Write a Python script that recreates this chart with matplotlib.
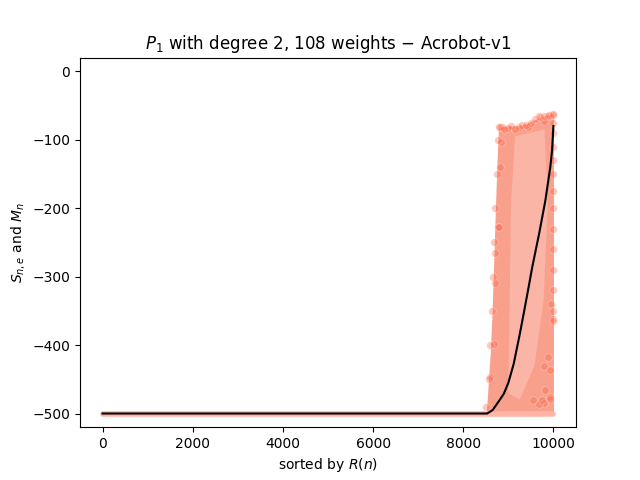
import matplotlib
matplotlib.use("Agg")
import matplotlib.pyplot as plt

# Mean curve M_n (sorted by R(n))
mean_x = [0, 8530, 8650, 8800, 8900, 9000, 9120, 9250, 9340, 9450, 9530, 9680, 9820, 9930, 9970, 9999]
mean_y = [-500, -500, -495, -481, -471, -455, -427, -385, -354, -315, -286, -238, -189, -140, -115, -80]

# Envelope of the dense cloud of episode scores S_{n,e}
cloud_x = [8510, 8540, 8600, 8640, 8680, 8710, 8750, 8780, 9000, 9300, 9600, 9800, 10000]
cloud_top = [-500, -470, -410, -350, -270, -205, -130, -82, -80, -79, -70, -65, -62]

# Lighter inner region of the cloud (polygon)
light_x = [9150, 9800, 9880, 9780, 9580, 9250, 9000, 9020, 9060]
light_y = [-95, -85, -189, -335, -430, -480, -470, -379, -189]

# Individual visible points of S_{n,e}
pts_x = [8822, 8985, 9230, 9438, 9674, 9785, 9882, 9999, 8844, 8807, 8771, 8859, 8785,
         8711, 8711, 8673, 8600, 9956, 9999, 9882, 9785, 9933, 9785, 9674, 9918, 9933,
         9822, 9748, 9555,
         8515, 8560, 8600, 8637, 8660, 8690, 8711, 8740, 8770,
         8800, 8900, 9050, 9150, 9300, 9400, 9500, 9600, 9700, 9800, 9900, 10000,
         9990, 9990, 9990, 9990, 9990, 9990, 9990, 9990, 9990, 9990, 9990, 9990, 9990]
pts_y = [-82, -83, -82, -82, -66, -72, -66, -64, -104, -140, -228, -82, -228,
         -266, -310, -398, -447, -340, -362, -418, -430, -476, -484, -486, -437, -479,
         -466, -480, -480,
         -490, -450, -400, -350, -300, -250, -200, -150, -100,
         -82, -85, -80, -84, -79, -78, -75, -70, -67, -66, -64, -62,
         -75, -90, -110, -130, -150, -175, -200, -230, -260, -290, -320, -350, -365]

# Band of scores at the -500 floor
floor_x = [0, 10000]
floor_y = [-500, -500]

fig, ax = plt.subplots(figsize=(6.4, 4.8), dpi=100)

ax.fill_between(cloud_x, cloud_top, -500, color="#f9a08c", lw=0, zorder=1)
ax.fill(light_x, light_y, color="#fbb5a6", lw=0, zorder=1.1)
ax.scatter(pts_x, pts_y, s=30, color="tomato", alpha=0.35, edgecolor="white",
           linewidth=0.5, zorder=2)
ax.plot(floor_x, floor_y, color="#ffb4a6", lw=4, solid_capstyle="round", zorder=2.5)
ax.plot(mean_x, mean_y, color="black", lw=1.5, zorder=3)

ax.set_xlim(-500, 10500)
ax.set_ylim(-520, 20)
ax.set_xticks([0, 2000, 4000, 6000, 8000, 10000])
ax.set_yticks([-500, -400, -300, -200, -100, 0])
ax.set_title("$P_1$ with degree 2, 108 weights $-$ Acrobot-v1")
ax.set_xlabel("sorted by $R(n)$")
ax.set_ylabel("$S_{n,e}$ and $M_n$")

fig.savefig("out.png", dpi=100)
